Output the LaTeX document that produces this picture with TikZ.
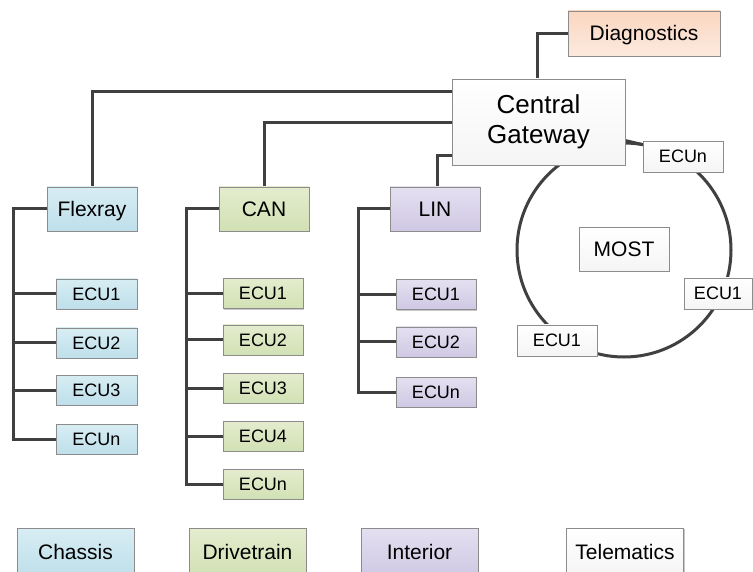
\documentclass[tikz,border=0pt]{standalone}
\usepackage{fontspec}
\setmainfont{Liberation Sans}
\usetikzlibrary{calc,shadows,backgrounds}

\definecolor{busline}{HTML}{404040}
\definecolor{boxedge}{HTML}{8C8C8C}

\tikzset{
  ecubox/.style={draw=boxedge, line width=0.8pt, inner sep=0pt,
    minimum width=#1, minimum height=30pt, font=\fontsize{18}{21}\selectfont,
    text height=12.9pt, text depth=0pt,
    drop shadow={shadow xshift=1.2pt, shadow yshift=-1.2pt, opacity=0.3, fill=black!70}},
  ecubox/.default=80pt,
  bigtext/.style={font=\fontsize{21}{24}\selectfont, text height=15pt},
  busbox/.style={ecubox=90pt, minimum height=44pt, bigtext},
  legendbox/.style={ecubox=117pt, minimum height=48pt, bigtext},
  chassis/.style={top color={rgb,255:red,216;green,237;blue,244}, bottom color={rgb,255:red,190;green,223;blue,234}},
  drive/.style={top color={rgb,255:red,228;green,236;blue,206}, bottom color={rgb,255:red,210;green,225;blue,180}},
  inter/.style={top color={rgb,255:red,228;green,224;blue,240}, bottom color={rgb,255:red,208;green,200;blue,228}},
  diag/.style={top color={rgb,255:red,250;green,214;blue,192}, bottom color={rgb,255:red,252;green,234;blue,222}},
  plain/.style={top color=white, bottom color=black!4},
  wire/.style={draw=busline, line width=3pt},
}

\begin{document}
\begin{tikzpicture}[x=1pt, y=-1pt]
  \clip (0,0) rectangle (753,572);

  % central gateway and diagnostics
  \node[ecubox=173pt, minimum height=86pt, plain, align=center,
        text height=, text depth=,
        font=\fontsize{26}{30}\selectfont] (gw) at (538.5,122) {Central\\Gateway};
  \node[ecubox=152pt, minimum height=45pt, diag, bigtext] (diag) at (644,33.5) {Diagnostics};

  % bus heads
  \node[busbox, chassis] (flex) at (92,209) {Flexray};
  \node[busbox, drive]   (can)  at (264,209) {CAN};
  \node[busbox, inter]   (lin)  at (435,209) {LIN};

  % Flexray ECUs
  \node[ecubox=81pt, chassis] (f1) at (96.5,294) {ECU1};
  \node[ecubox=81pt, chassis] (f2) at (96.5,343) {ECU2};
  \node[ecubox=81pt, chassis] (f3) at (96.5,390) {ECU3};
  \node[ecubox=81pt, chassis] (fn) at (96.5,439) {ECUn};

  % CAN ECUs
  \node[ecubox, drive] (c1) at (263,293.5) {ECU1};
  \node[ecubox, drive] (c2) at (263,340) {ECU2};
  \node[ecubox, drive] (c3) at (263,388) {ECU3};
  \node[ecubox, drive] (c4) at (263,436) {ECU4};
  \node[ecubox, drive] (cn) at (263,484) {ECUn};

  % LIN ECUs
  \node[ecubox, inter] (l1) at (436,294.5) {ECU1};
  \node[ecubox, inter] (l2) at (436,342) {ECU2};
  \node[ecubox, inter] (ln) at (436,392) {ECUn};

  % MOST ring
  \coordinate (ring) at (624,250);
  \node[ecubox=90pt, minimum height=44pt, plain, bigtext] (most) at (624,249) {MOST};
  \node[ecubox, minimum height=31pt, plain] (mn)  at (683,156.5) {ECUn};
  \node[ecubox=68pt, minimum height=31pt, plain] (mr) at (718,293.5) {ECU1};
  \node[ecubox, minimum height=31pt, plain] (ml)  at (557,340.5) {ECU1};

  % legend
  \node[legendbox, chassis] (lgc) at (75.5,552) {Chassis};
  \node[legendbox, drive]   (lgd) at (247.5,552) {Drivetrain};
  \node[legendbox, inter]   (lgi) at (419.5,552) {Interior};
  \node[legendbox, plain]   (lgt) at (625,552) {Telematics};

  % bus rails
  \coordinate (railF) at (13,209);
  \coordinate (railC) at (186,209);
  \coordinate (railL) at (358,209);

  \begin{pgfonlayer}{background}
    \fill[white] (0,0) rectangle (753,572);
    % gateway links
    \coordinate (gtop) at ($(gw.north)+(-1.5,0)$);
    \draw[wire] (gtop) |- (diag.west);
    \draw[wire] ($(gw.north west)+(0,13)$) -| (flex.north);
    \draw[wire] ($(gw.north west)+(0,44)$) -| (can.north);
    \draw[wire] ($(gw.north west)+(0,77)$) -| ($(lin.north)+(2,0)$);

    % Flexray bus
    \draw[wire] (flex.west) -- (railF) |- (fn.west);
    \foreach \e in {f1,f2,f3} \draw[wire] (\e.west) -- (\e.west -| railF);
    % CAN bus
    \draw[wire] (can.west) -- (railC) |- (cn.west);
    \foreach \e in {c1,c2,c3,c4} \draw[wire] (\e.west) -- (\e.west -| railC);
    % LIN bus
    \draw[wire] (lin.west) -- (railL) |- (ln.west);
    \foreach \e in {l1,l2} \draw[wire] (\e.west) -- (\e.west -| railL);

    % MOST ring
    \draw[wire] (ring) circle[radius=107pt];
    \draw[wire] ($(gw.north east)+(0,62)$) -- ($(mn.north west)+(0,4)$);
  \end{pgfonlayer}
\end{tikzpicture}
\end{document}
